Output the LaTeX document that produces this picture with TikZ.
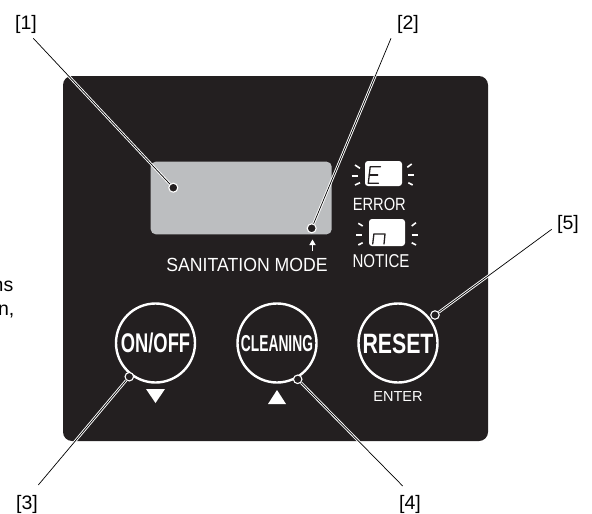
\documentclass[tikz,border=0pt]{standalone}
\usepackage{fontspec}
\setmainfont{Liberation Sans}
\definecolor{panel}{HTML}{231F20}
\definecolor{lcd}{HTML}{BCBEC0}
\begin{document}
\begin{tikzpicture}[x=1pt,y=-1pt,
 leader/.style={draw=black, line width=0.7pt, preaction={draw=white, line width=2.6pt}},
 dotmark/.style={circle, fill=panel, draw=white, line width=1.1pt, minimum size=9pt, inner sep=0pt},
 ringmark/.style={circle, fill=panel, draw=white, line width=1.1pt, minimum size=8.5pt, inner sep=0pt},
 btn/.style={circle, draw=white, line width=2.4pt, minimum size=79pt, inner sep=0pt},
 lab/.style={inner sep=0pt, anchor=base, font=\fontsize{19.5}{20}\selectfont},
 wtxt/.style={inner sep=0pt, anchor=base, text=white},
 btxt/.style={inner sep=0pt, anchor=base, text=white},
 ray/.style={white, line width=1.6pt},
 seg/.style={panel, line width=1.3pt, line cap=round, line join=round},
 ]
\useasboundingbox (0,0) rectangle (592,514);
\clip (0,0) rectangle (592,514);
% panel and display
\fill[panel, rounded corners=9pt] (63,76) rectangle (488,441);
\fill[lcd, rounded corners=5pt] (150.7,161.7) rectangle (331.7,234.3);
% sanitation mode arrow and text
\draw[white, line width=1.2pt] (312.5,251) -- (312.5,244);
\fill[white] (309.3,245) -- (315.7,245) -- (312.5,239.5) -- cycle;
\node[wtxt, font=\fontsize{19}{20}\selectfont] (san) at (247,271) {\scalebox{0.93}[1]{SANITATION MODE}};
% error / notice indicators
\fill[white, rounded corners=3pt] (365,161) rectangle (402,186);
\fill[white, rounded corners=3pt] (369,219) rectangle (405,246);
\draw[seg] (380.5,166.7) -- (370.2,166.7) -- (368.3,183.3) -- (378.5,183.3);
\draw[seg] (369.2,175) -- (377.7,175);
\draw[seg] (372.7,244) -- (373.9,234) -- (385,234) -- (384,244);
\draw[ray] (355,165) -- (360,168.3);
\draw[ray] (351.7,176) -- (358.3,176);
\draw[ray] (355,185) -- (360,182.7);
\draw[ray] (411.7,164) -- (407.3,167.3);
\draw[ray] (408.3,175) -- (414.3,175);
\draw[ray] (408.3,182.7) -- (412.7,185);
\draw[ray] (358.3,223.3) -- (362.7,226);
\draw[ray] (356,235) -- (361.7,235);
\draw[ray] (358.3,245) -- (362.7,242.7);
\draw[ray] (416,222.7) -- (411.7,226);
\draw[ray] (411.7,235) -- (417.7,235);
\draw[ray] (411.7,242.7) -- (416,245);
\node[wtxt, font=\fontsize{17.7}{18}\selectfont] (err) at (379.3,210) {\scalebox{0.83}[1]{ERROR}};
\node[wtxt, font=\fontsize{18.6}{19}\selectfont] (ntc) at (381,267.3) {\scalebox{0.81}[1]{NOTICE}};
% buttons
\node[btn] (b1) at (155.5,343) {};
\node[btn] (b2) at (277,343) {};
\node[btn] (b3) at (398,343) {};
\node[btxt, font=\fontsize{27}{27}\selectfont\bfseries] (t1) at (155.5,352.5) {\scalebox{0.68}[1]{ON/OFF}};
\node[btxt, font=\fontsize{23}{23}\selectfont\bfseries] (t2) at (277,351) {\scalebox{0.6}[1]{CLEANING}};
\node[btxt, font=\fontsize{28}{28}\selectfont\bfseries] (t3) at (398,353) {\scalebox{0.76}[1]{RESET}};
\fill[white] (146,389) -- (165,389) -- (155.5,403) -- cycle;
\fill[white] (268,404) -- (286,404) -- (277,390) -- cycle;
\node[wtxt, font=\fontsize{14.5}{15}\selectfont] (ent) at (398,401.7) {ENTER};
% callout labels
\node[lab] (L1) at (26,29.3) {[1]};
\node[lab] (L2) at (408,29.3) {[2]};
\node[lab] (L3) at (27,509.5) {[3]};
\node[lab] (L4) at (410,509) {[4]};
\node[lab] (L5) at (568,229) {[5]};
\node[lab, anchor=base east] (cut1) at (13.5,291.7) {ns};
\node[lab, anchor=base east] (cut2) at (14.5,315) {n,};
\coordinate (s1) at (33.3,38.3);
\coordinate (s2) at (391,38.3);
\coordinate (s3) at (38.3,485);
\coordinate (s4) at (402.7,486);
\coordinate (s5) at (551.7,229.3);
% leader end marks
\node[dotmark] (d1) at (173.3,187.7) {};
\node[dotmark] (d2) at (311.7,228.3) {};
\node[ringmark] (r3) at (129.3,376.7) {};
\node[ringmark] (r4) at (297.7,379.3) {};
\node[ringmark] (r5) at (435,315) {};
% leaders
\draw[leader] (s1) -- (d1);
\draw[leader] (s2) -- (d2);
\draw[leader] (s3) -- (r3);
\draw[leader] (s4) -- (r4);
\draw[leader] (s5) -- (r5);
\end{tikzpicture}
\end{document}
